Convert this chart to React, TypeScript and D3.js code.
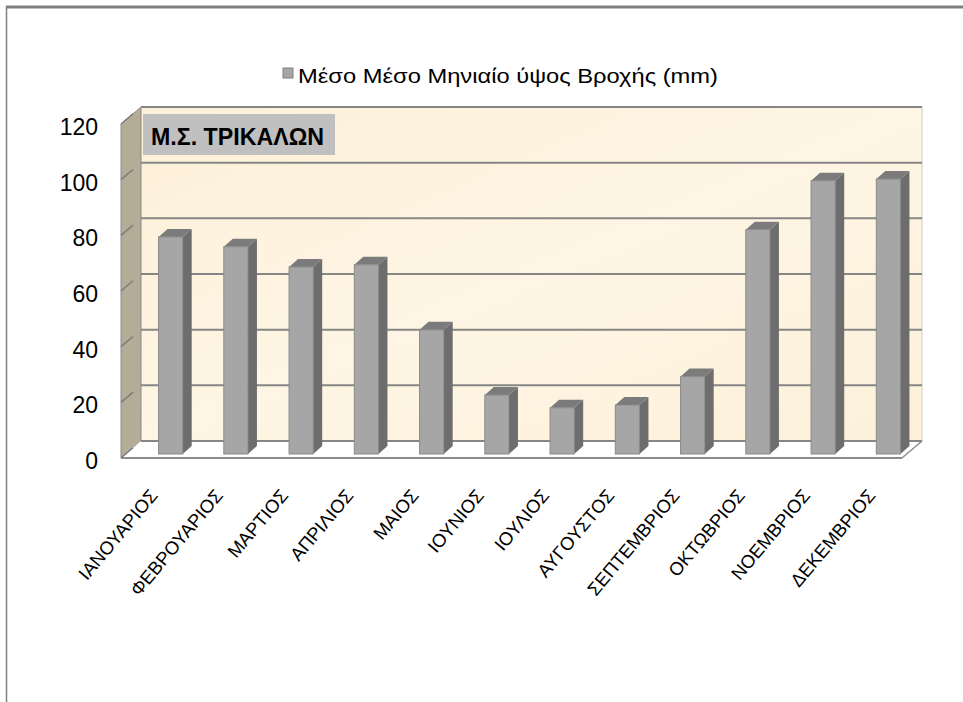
import React from "react";
import { scaleBand, scaleLinear } from "d3";

const months = [
  "ΙΑΝΟΥΑΡΙΟΣ",
  "ΦΕΒΡΟΥΑΡΙΟΣ",
  "ΜΑΡΤΙΟΣ",
  "ΑΠΡΙΛΙΟΣ",
  "ΜΑΙΟΣ",
  "ΙΟΥΝΙΟΣ",
  "ΙΟΥΛΙΟΣ",
  "ΑΥΓΟΥΣΤΟΣ",
  "ΣΕΠΤΕΜΒΡΙΟΣ",
  "ΟΚΤΩΒΡΙΟΣ",
  "ΝΟΕΜΒΡΙΟΣ",
  "ΔΕΚΕΜΒΡΙΟΣ",
];
const rain = [78, 74.5, 67.2, 68, 44.6, 21.2, 16.6, 17.6, 27.8, 80.6, 98.2, 98.8];
const yTicks = [0, 20, 40, 60, 80, 100, 120];
const seriesName = "Μέσο Μέσο Μηνιαίο ύψος Βροχής (mm)";
const stationName = "Μ.Σ. ΤΡΙΚΑΛΩΝ";

// wall geometry (back wall / depth offset toward the viewer)
const wallLeft = 141;
const wallRight = 922;
const depthX = -20;
const depthY = 17;
const barShift = 13; // bars sit a little in front of the back wall
const topDx = 9;
const topDy = -8;

const App: React.FC = () => {
  const y = scaleLinear().domain([0, 120]).range([441, 107]);
  const x = scaleBand<string>()
    .domain(months)
    .range([138, 921])
    .paddingInner(0.63)
    .paddingOuter(0.315);
  const bw = x.bandwidth();
  const font = "'Liberation Sans', Arial, sans-serif";

  return (
    <svg width={963} height={702} style={{ position: "absolute", left: 0, top: 0 }}>
      <defs>
        <linearGradient id="wall" x1="0" y1="0" x2="1" y2="1">
          <stop offset="0" stopColor="#fdf0d8" />
          <stop offset="0.5" stopColor="#fef5e4" />
          <stop offset="1" stopColor="#fdf1da" />
        </linearGradient>
      </defs>
      <rect x={0} y={0} width={963} height={702} fill="#fff" />
      {/* outer frame */}
      <line x1={6} y1={7} x2={963} y2={7} stroke="#808080" strokeWidth={3} />
      <line x1={6.5} y1={6} x2={6.5} y2={702} stroke="#808080" strokeWidth={1.5} />

      {/* legend */}
      <rect x={283} y={68} width={10} height={10} fill="#a6a6a6" stroke="#808080" strokeWidth={1} />
      <text
        x={298}
        y={83}
        fontFamily={font}
        fontSize={21}
        textLength={420}
        lengthAdjust="spacingAndGlyphs"
      >
        {seriesName}
      </text>

      {/* back wall */}
      <rect x={wallLeft} y={y(120)} width={wallRight - wallLeft} height={y(0) - y(120)} fill="url(#wall)" />
      <line x1={wallRight} y1={y(120)} x2={wallRight} y2={y(0)} stroke="#e4e4e4" strokeWidth={2} />
      {/* left side wall */}
      <polygon
        points={`${wallLeft},${y(120)} ${wallLeft},${y(0)} ${wallLeft + depthX},${y(0) + depthY} ${wallLeft + depthX},${y(120) + depthY}`}
        fill="#b5ac98"
        stroke="#8a8a8a"
        strokeWidth={1}
      />
      {/* floor */}
      <polygon
        points={`${wallLeft},${y(0)} ${wallRight},${y(0)} ${wallRight + depthX},${y(0) + depthY} ${wallLeft + depthX},${y(0) + depthY}`}
        fill="#fff"
      />
      <line x1={wallLeft + depthX} y1={y(0) + depthY} x2={wallRight + depthX} y2={y(0) + depthY} stroke="#8c8c8c" strokeWidth={2} />
      <line x1={wallRight + depthX} y1={y(0) + depthY} x2={wallRight} y2={y(0)} stroke="#8c8c8c" strokeWidth={1.5} />

      {/* gridlines */}
      {yTicks.map((t) => (
        <g key={t}>
          <line x1={wallLeft} y1={y(t)} x2={wallRight} y2={y(t)} stroke="#868686" strokeWidth={2} />
          <line
            x1={wallLeft + depthX}
            y1={y(t) + depthY}
            x2={wallLeft + depthX * 0.4}
            y2={y(t) + depthY * 0.4}
            stroke="#7c7c7c"
            strokeWidth={1.5}
          />
          <text
            x={98}
            y={y(t) + depthY + 11}
            textAnchor="end"
            fontFamily={font}
            fontSize={23}
            fill="#000"
          >
            {t}
          </text>
        </g>
      ))}

      {/* station title */}
      <rect x={143} y={114} width={192} height={41} fill="#c0c0c0" />
      <text
        x={151}
        y={145}
        fontFamily={font}
        fontWeight="bold"
        fontSize={23}
        textLength={173}
        lengthAdjust="spacingAndGlyphs"
      >
        {stationName}
      </text>

      {/* bars */}
      {months.map((m, i) => {
        const x0 = x(m)!;
        const x1 = x0 + bw;
        const yb = y(0) + barShift;
        const yt = y(rain[i]) + barShift;
        return (
          <g key={m}>
            <polygon
              points={`${x1},${yt} ${x1 + topDx},${yt + topDy} ${x1 + topDx},${yb + topDy} ${x1},${yb}`}
              fill="#6d6d6d"
            />
            <polygon
              points={`${x0},${yt} ${x0 + topDx},${yt + topDy} ${x1 + topDx},${yt + topDy} ${x1},${yt}`}
              fill="#7b7b7b"
            />
            <rect x={x0} y={yt} width={bw} height={yb - yt} fill="#a6a6a6" stroke="#8a8a8a" strokeWidth={1} />
          </g>
        );
      })}

      {/* category labels */}
      {months.map((m) => {
        const cx = x(m)! + bw / 2 - 12;
        const cy = 496;
        return (
          <text
            key={m}
            transform={`translate(${cx},${cy}) rotate(-50)`}
            textAnchor="end"
            fontFamily={font}
            fontSize={18.5}
          >
            {m}
          </text>
        );
      })}
    </svg>
  );
};

export default App;
